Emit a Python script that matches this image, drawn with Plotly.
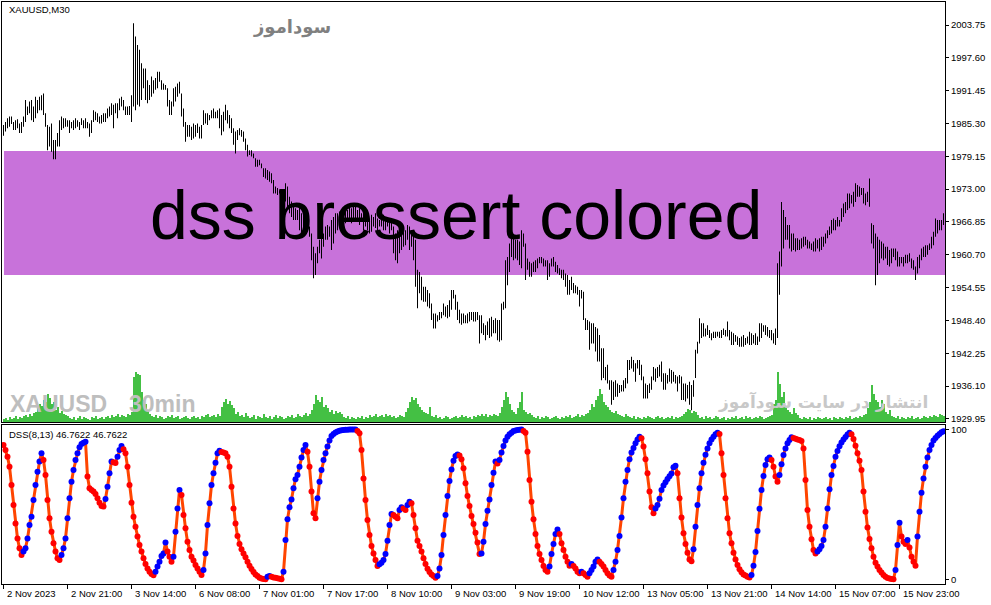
import plotly.graph_objects as go

# ---------------- data ----------------
x_labels = ["2 Nov 2023", "2 Nov 21:00", "3 Nov 14:00", "6 Nov 08:00", "7 Nov 01:00",
            "7 Nov 17:00", "8 Nov 10:00", "9 Nov 03:00", "9 Nov 19:00", "10 Nov 12:00",
            "13 Nov 05:00", "13 Nov 21:00", "14 Nov 14:00", "15 Nov 07:00", "15 Nov 23:00"]
label_bar = [0, 32, 64, 96, 128, 160, 192, 224, 256, 288, 320, 352, 384, 416, 448]

price_ticks = [2003.75, 1997.60, 1991.45, 1985.30, 1979.15, 1973.00, 1966.85,
               1960.70, 1954.55, 1948.40, 1942.25, 1936.10, 1929.95]

high = [
 1985.0,1985.6,1986.3,1986.6,1986.6,1985.6,1985.9,1986.1,1985.3,1985.6,
 1986.6,1989.7,1988.5,1989.4,1989.7,1988.5,1990.3,1989.7,1990.3,1990.6,
 1990.9,1987.2,1985.0,1984.7,1985.3,1982.2,1982.2,1983.5,1985.9,1986.6,
 1986.3,1986.3,1985.9,1985.9,1985.6,1985.9,1986.3,1985.9,1985.6,1986.3,
 1985.9,1986.3,1985.6,1985.3,1985.9,1987.8,1987.5,1987.2,1986.6,1986.9,
 1987.2,1987.2,1988.1,1988.5,1989.1,1988.8,1989.1,1989.1,1990.0,1990.3,
 1989.7,1988.5,1988.5,1988.6,1990.6,2004.1,2001.6,2000.0,1999.1,1996.6,
 1995.6,1995.6,1993.4,1992.5,1994.1,1993.4,1993.8,1995.0,1995.0,1993.4,
 1992.8,1992.5,1991.9,1989.7,1989.4,1991.9,1992.2,1992.8,1993.1,1990.9,
 1988.1,1985.6,1985.0,1985.0,1984.7,1985.3,1985.0,1985.3,1984.7,1985.0,
 1987.8,1987.2,1987.2,1986.9,1987.8,1988.1,1987.5,1987.8,1988.1,1986.9,
 1987.5,1988.8,1987.8,1986.9,1986.3,1984.4,1983.8,1984.1,1984.4,1984.1,
 1983.8,1982.5,1981.3,1980.3,1980.3,1979.7,1978.8,1978.5,1978.5,1977.8,
 1976.9,1976.9,1976.6,1976.3,1976.0,1974.7,1973.5,1973.2,1972.8,1972.8,
 1972.5,1974.1,1973.5,1971.6,1970.7,1970.0,1969.4,1969.1,1969.7,1968.5,
 1969.1,1967.5,1967.2,1966.0,1964.7,1962.2,1961.0,1962.2,1963.5,1965.3,
 1964.7,1966.0,1966.3,1966.0,1967.2,1967.8,1968.5,1968.5,1968.8,1969.1,
 1968.5,1969.4,1969.1,1969.7,1969.4,1970.3,1969.7,1969.1,1969.4,1968.5,
 1968.8,1968.5,1967.8,1967.5,1968.2,1967.8,1968.5,1967.5,1967.2,1968.5,
 1968.2,1967.5,1967.8,1967.2,1966.9,1966.0,1964.7,1965.3,1964.7,1965.3,
 1966.0,1965.3,1966.3,1966.0,1965.3,1964.7,1963.5,1957.9,1957.5,1956.6,
 1954.7,1954.7,1954.1,1953.5,1951.6,1949.7,1949.7,1949.4,1950.0,1950.0,
 1951.6,1951.0,1951.3,1952.2,1954.1,1954.1,1953.2,1951.9,1950.4,1949.7,
 1949.7,1949.4,1949.7,1950.0,1950.0,1950.0,1950.0,1950.0,1949.4,1949.4,
 1947.9,1947.5,1948.2,1948.8,1949.1,1948.5,1948.8,1948.5,1948.5,1951.6,
 1951.9,1959.7,1960.3,1962.8,1964.7,1963.8,1963.5,1963.5,1963.2,1965.3,
 1964.7,1962.8,1960.0,1959.4,1959.1,1959.4,1959.7,1960.0,1960.3,1960.3,
 1960.0,1959.7,1959.7,1959.1,1960.0,1960.3,1959.4,1958.8,1958.2,1957.9,
 1957.9,1957.2,1956.9,1956.0,1956.6,1955.4,1955.0,1954.7,1954.1,1954.1,
 1953.8,1948.8,1948.5,1948.2,1947.9,1947.9,1947.2,1946.9,1945.7,1943.2,
 1943.2,1939.7,1940.1,1937.2,1937.2,1936.9,1937.2,1936.6,1936.3,1936.3,
 1937.2,1937.6,1941.0,1941.0,1941.6,1941.0,1940.4,1941.0,1941.0,1940.1,
 1937.9,1936.6,1936.3,1936.6,1937.9,1939.7,1939.4,1939.7,1940.1,1940.7,
 1938.5,1938.5,1938.2,1939.4,1939.1,1938.8,1938.2,1937.9,1938.2,1937.9,
 1936.6,1936.6,1936.3,1936.9,1936.3,1937.2,1942.9,1944.4,1948.8,1947.9,
 1947.9,1946.9,1947.5,1946.6,1946.0,1946.3,1946.3,1946.3,1946.3,1946.6,
 1946.9,1946.6,1948.2,1946.6,1946.3,1946.0,1945.7,1945.4,1945.1,1945.4,
 1945.7,1945.1,1945.4,1946.3,1946.0,1945.7,1946.0,1945.4,1947.9,1947.9,
 1947.5,1947.5,1947.2,1946.6,1946.6,1946.0,1946.9,1959.1,1961.3,1970.6,
 1969.1,1967.8,1966.3,1966.3,1964.7,1964.7,1963.8,1963.8,1963.5,1963.8,
 1964.1,1964.1,1963.5,1963.2,1962.8,1963.2,1963.8,1963.5,1963.8,1964.1,
 1964.1,1964.7,1965.3,1966.0,1967.2,1967.5,1967.2,1967.8,1967.2,1969.4,
 1970.3,1970.6,1972.2,1972.2,1971.9,1972.5,1974.1,1973.8,1973.5,1973.2,
 1973.2,1972.2,1972.5,1975.0,1966.6,1966.3,1964.7,1964.1,1963.5,1963.2,
 1962.8,1962.2,1962.2,1961.6,1961.9,1961.9,1961.9,1961.3,1960.3,1960.3,
 1960.3,1960.7,1960.7,1961.0,1960.0,1959.7,1958.5,1960.3,1960.7,1961.9,
 1962.2,1962.5,1962.5,1962.8,1964.1,1965.0,1967.5,1967.2,1967.2,1967.2,1968.5]

low = [
 1983.0,1983.8,1984.4,1984.7,1985.2,1984.1,1984.1,1984.4,1983.5,1983.5,
 1984.7,1985.6,1986.9,1987.2,1985.9,1985.6,1986.3,1987.2,1987.8,1987.8,
 1986.9,1984.7,1980.3,1981.0,1980.0,1978.6,1978.6,1981.0,1981.0,1984.1,
 1984.4,1984.7,1984.7,1983.5,1984.4,1984.1,1984.4,1984.7,1984.1,1985.0,
 1984.4,1984.4,1984.4,1982.8,1983.5,1985.6,1985.9,1985.6,1985.3,1985.3,
 1985.6,1985.6,1986.3,1986.6,1986.9,1984.4,1987.2,1986.3,1987.8,1988.5,
 1987.8,1986.9,1986.9,1986.9,1985.6,1988.5,1987.8,1988.8,1988.5,1989.7,
 1991.9,1989.7,1989.1,1989.7,1990.3,1990.9,1991.6,1991.9,1993.1,1991.6,
 1991.6,1991.6,1988.5,1986.9,1986.9,1988.5,1989.4,1990.3,1990.9,1986.6,
 1984.7,1981.9,1982.8,1982.8,1982.2,1982.5,1982.8,1983.5,1982.5,1982.5,
 1985.0,1985.3,1985.0,1985.9,1986.3,1986.3,1986.3,1986.3,1984.4,1983.1,
 1983.8,1985.9,1985.3,1984.4,1983.5,1981.3,1979.7,1982.2,1983.1,1982.8,
 1981.9,1980.3,1979.1,1979.4,1979.1,1978.8,1977.2,1977.2,1977.5,1976.9,
 1975.3,1975.0,1974.7,1974.4,1974.1,1972.2,1972.2,1971.9,1972.2,1971.9,
 1971.6,1970.7,1969.7,1968.5,1967.8,1967.2,1967.2,1967.2,1965.3,1964.7,
 1964.7,1964.7,1965.3,1964.1,1959.7,1956.3,1956.9,1959.1,1961.0,1960.0,
 1962.2,1963.5,1963.5,1964.1,1961.6,1962.8,1964.7,1965.3,1966.0,1965.3,
 1966.0,1966.6,1966.9,1967.2,1966.6,1967.5,1966.9,1967.2,1966.3,1966.9,
 1965.3,1966.0,1965.3,1964.7,1965.0,1966.0,1965.7,1965.3,1966.0,1966.0,
 1965.3,1965.3,1966.0,1964.7,1965.3,1961.0,1959.7,1959.1,1961.0,1961.6,
 1962.2,1962.5,1963.5,1961.6,1962.2,1959.7,1954.7,1950.7,1953.5,1952.2,
 1951.9,1951.9,1951.0,1950.7,1948.5,1946.9,1946.9,1948.2,1948.5,1948.8,
 1949.4,1949.1,1948.8,1949.1,1950.4,1952.5,1950.4,1948.5,1947.9,1947.6,
 1947.9,1947.9,1947.9,1948.2,1948.5,1948.2,1948.2,1948.5,1944.1,1946.0,
 1945.7,1944.7,1945.7,1945.1,1945.4,1946.0,1946.0,1944.7,1944.4,1944.7,
 1950.4,1950.7,1955.0,1957.5,1960.3,1959.7,1960.0,1959.7,1958.8,1958.2,
 1962.2,1956.0,1957.9,1956.6,1956.6,1957.5,1957.5,1958.2,1959.1,1959.1,
 1958.5,1958.5,1956.0,1956.6,1958.5,1958.5,1957.5,1957.2,1956.9,1956.3,
 1956.0,1954.7,1953.2,1953.2,1954.1,1953.5,1953.5,1953.2,1951.0,1952.5,
 1948.5,1946.6,1946.6,1942.9,1944.1,1944.1,1942.6,1940.7,1940.7,1937.2,
 1937.6,1937.2,1936.6,1935.4,1932.6,1933.5,1934.1,1934.1,1934.8,1935.1,
 1935.1,1935.7,1936.6,1939.1,1939.4,1938.8,1936.9,1939.4,1938.2,1937.2,
 1933.8,1933.8,1933.8,1934.8,1935.4,1937.2,1936.9,1937.6,1937.9,1936.9,
 1935.4,1935.4,1936.6,1936.9,1936.6,1936.9,1936.6,1935.1,1936.6,1933.5,
 1933.5,1933.2,1933.8,1932.6,1931.6,1934.1,1937.6,1942.2,1944.1,1945.1,
 1945.4,1945.4,1945.7,1945.1,1944.7,1945.1,1945.1,1945.4,1945.1,1945.1,
 1945.7,1945.4,1945.4,1944.7,1943.8,1943.8,1944.4,1943.8,1943.5,1943.5,
 1943.5,1943.8,1944.1,1943.8,1943.8,1944.1,1943.8,1943.8,1944.4,1945.1,
 1946.3,1945.7,1945.4,1945.1,1944.7,1944.1,1943.8,1945.1,1953.2,1958.5,
 1961.9,1963.5,1963.5,1961.9,1961.3,1961.6,1961.3,1961.6,1961.6,1961.9,
 1962.2,1962.5,1961.9,1961.9,1961.6,1961.3,1961.3,1961.9,1961.3,1961.6,
 1962.2,1962.8,1963.8,1964.4,1964.7,1965.3,1965.3,1966.0,1966.0,1966.9,
 1967.8,1968.5,1969.1,1969.4,1970.3,1969.7,1970.6,1971.6,1971.6,1971.9,
 1970.3,1970.0,1970.6,1969.7,1962.8,1961.9,1955.0,1956.9,1959.1,1960.0,
 1959.7,1960.0,1958.8,1958.5,1959.1,1960.3,1959.7,1958.5,1958.5,1959.1,
 1958.5,1959.1,1959.1,1959.4,1958.2,1957.9,1956.0,1957.2,1958.2,1959.7,
 1960.3,1960.3,1960.7,1961.6,1961.9,1962.5,1964.1,1964.7,1965.3,1965.3,1966.3]

# tick volume (hundreds of ticks)
volume = [
 3,4,2,5,3,4,6,3,5,4,6,
 7,5,8,6,9,10,
 14,18,16,22,20,28,24,18,20,
 12,15,9,11,8,7,6,
 4,3,5,2,4,6,3,5,4,3,2,5,4,6,3,4,5,3,
 5,6,4,7,5,6,8,5,7,6,5,8,7,10,
 45,50,48,47,
 30,22,18,12,
 8,6,5,7,4,6,5,3,4,6,5,7,4,5,6,3,4,5,6,4,3,5,6,4,5,3,
 6,5,7,8,5,6,7,5,8,6,
 15,20,23,18,21,17,14,
 8,10,6,7,5,9,6,4,5,7,3,6,5,4,8,5,4,6,3,5,7,4,6,5,3,4,6,5,7,4,5,8,6,5,7,9,6,8,
 12,18,27,22,20,25,15,17,14,
 10,12,8,11,9,10,8,
 5,4,6,3,5,4,3,5,4,6,3,5,4,7,5,6,8,5,6,7,5,8,6,7,5,6,4,5,7,6,5,
 10,14,20,25,22,24,18,15,12,10,9,8,15,
 6,5,7,4,5,3,4,6,5,3,4,5,6,4,5,7,5,6,4,5,3,6,5,7,6,8,
 6,8,5,7,6,8,7,6,9,
 15,22,30,25,18,12,10,8,14,20,30,
 12,10,8,9,7,
 5,4,6,3,5,4,6,5,3,4,5,6,4,3,5,4,6,5,7,4,5,6,8,5,7,6,8,9,
 12,18,15,22,26,33,28,20,17,15,
 12,10,9,11,8,7,6,5,8,6,
 5,4,6,3,5,4,3,5,4,6,5,4,3,5,6,4,5,3,4,5,4,6,3,5,4,5,6,
 8,10,13,12,9,11,10,7,
 4,5,3,6,4,5,3,4,6,5,3,4,5,2,4,3,5,4,6,3,4,5,3,6,4,5,3,4,5,4,6,5,3,4,5,6,7,
 18,22,50,38,25,30,15,
 12,10,8,14,9,7,
 4,3,5,4,3,5,2,4,3,5,4,3,4,5,3,4,2,5,4,3,5,4,3,5,4,6,3,4,5,4,6,5,7,8,
 14,20,37,28,22,
 20,15,22,18,10,8,12,
 6,5,4,6,3,5,4,3,5,4,6,3,4,5,3,4,6,5,4,6,5,7,6,5,8,7,6]

dss = [
 89.7,86.3,81.9,75.2,63.0,49.7,37.4,27.4,20.8,16.3,
 18.6,20.8,27.4,36.3,41.9,53.0,63.0,71.9,78.6,84.1,
 79.7,69.7,53.0,40.8,31.9,24.1,18.6,14.1,13.0,16.3,
 20.8,27.4,40.8,54.1,65.2,73.0,79.7,84.1,88.1,90.3,
 91.2,91.9,68.6,60.8,59.7,58.6,57.0,54.1,51.2,49.0,
 48.6,53.7,61.9,70.8,78.6,78.1,77.7,81.9,86.3,89.0,
 86.8,84.1,75.2,63.0,51.2,41.9,35.2,28.6,23.0,18.6,
 14.1,10.3,7.4,5.2,3.7,2.8,5.2,8.6,11.9,15.7,
 17.4,24.6,18.6,15.2,11.9,15.2,31.9,47.4,59.7,56.3,
 43.0,34.1,25.2,19.7,15.2,12.6,9.7,7.4,5.2,3.0,
 6.3,17.4,36.3,50.8,63.0,70.8,77.9,84.1,85.9,85.0,
 84.6,84.1,81.9,75.2,61.9,47.4,37.4,29.0,23.7,20.1,
 17.4,14.8,11.9,9.2,7.0,5.0,3.4,2.3,1.2,0.7,
 0.4,0.2,1.9,2.3,1.8,1.4,1.1,0.8,0.5,0.2,
 5.2,26.3,40.1,48.1,53.4,60.8,66.8,69.7,75.2,81.4,
 86.3,89.7,85.2,75.2,58.6,44.1,40.8,54.1,65.2,73.0,
 79.7,84.1,88.6,92.6,95.7,97.0,98.0,98.7,99.2,99.5,
 99.7,99.8,99.9,99.95,99.97,99.98,99.99,99.0,97.5,86.3,
 67.4,53.0,39.7,29.7,22.3,17.4,13.0,9.0,10.1,11.2,
 13.0,17.0,25.9,36.3,43.7,43.0,41.9,40.8,46.3,48.1,
 47.4,46.3,49.7,51.9,50.8,43.0,34.1,25.9,22.3,18.6,
 14.1,10.3,7.2,5.0,3.4,2.3,1.2,2.3,7.4,16.3,
 29.7,43.0,55.7,65.7,73.4,79.2,82.3,83.4,82.6,80.1,
 74.1,64.1,55.7,49.0,42.3,37.0,31.2,24.6,17.0,17.4,
 25.2,37.0,45.9,53.4,63.0,71.2,78.6,77.4,79.7,84.6,
 89.0,92.6,95.2,96.8,97.9,99.0,99.4,99.7,99.9,100.0,
 99.0,97.9,85.2,66.3,51.9,40.1,30.3,22.3,17.0,13.0,
 9.0,6.3,5.2,8.6,17.0,23.7,30.3,33.4,30.3,24.1,
 19.7,15.2,11.9,9.2,10.3,9.0,7.4,5.2,4.1,5.2,
 4.1,3.0,1.9,4.1,6.3,8.6,11.9,13.4,11.9,10.3,
 8.6,6.3,4.1,2.6,1.9,6.3,11.9,19.7,29.0,41.4,
 54.1,65.2,73.0,80.1,84.6,87.7,90.8,93.4,95.2,94.1,
 88.6,80.1,70.8,58.6,48.1,44.1,47.4,49.7,53.9,59.7,
 62.6,64.8,67.0,68.8,70.6,74.8,75.9,70.8,54.1,41.4,
 30.8,23.7,17.9,13.4,12.1,20.1,35.2,49.7,60.8,70.8,
 77.9,83.2,87.4,90.8,93.4,95.2,96.8,97.9,97.0,84.1,
 69.7,54.1,40.8,30.8,24.1,17.9,13.4,9.7,6.8,4.8,
 3.4,2.6,1.9,1.4,3.0,9.2,18.3,32.3,47.2,59.7,
 69.0,76.3,80.1,81.4,79.7,75.2,68.6,65.2,69.7,76.8,
 83.0,87.4,90.8,93.0,94.8,94.3,93.9,93.4,93.0,92.3,
 87.4,66.3,46.3,35.2,26.8,19.7,17.4,18.6,20.1,22.3,
 26.3,35.2,47.4,60.1,69.7,75.7,81.9,85.7,88.8,91.4,
 93.4,95.0,96.6,97.9,96.8,93.7,89.2,84.1,79.2,73.0,
 58.6,45.2,34.6,27.0,20.8,15.2,11.2,8.6,6.3,4.6,
 3.0,1.9,1.0,0.6,0.3,0.1,6.3,23.0,37.9,28.6,
 25.2,23.7,26.3,21.4,15.2,11.9,9.2,28.6,45.2,57.9,
 67.4,75.2,81.4,86.3,89.7,92.6,94.3,95.9,97.0,98.1,98.8]

band_low, band_high = 1956.92, 1980.15

n = len(high)
if not (len(low) == n == len(volume) == len(dss)):
    raise SystemExit(f"length mismatch {len(high)} {len(low)} {len(volume)} {len(dss)}")

bars = list(range(n))
span = [h - l for h, l in zip(high, low)]
dot_colors = ["#FF0000"] + ["#0000FF" if dss[i] > dss[i - 1] else "#FF0000" for i in range(1, n)]

FONT = "Liberation Sans, Arial, sans-serif"
# 943 px plot width over 471.5 bar units -> exactly 2 px per bar, bar edges on whole pixels
xr = [-0.75, n - 0.25]

fig = go.Figure()
fig.add_trace(go.Bar(x=bars, y=volume, xaxis="x2", yaxis="y3", width=0.58, offset=-0.25,
                     marker=dict(color="#44C044", opacity=0.999, line=dict(width=0)),
                     hoverinfo="skip"))
fig.add_trace(go.Bar(x=bars, y=span, base=low, xaxis="x2", yaxis="y", width=0.5,
                     marker=dict(color="black", line=dict(width=0))))
fig.add_trace(go.Scatter(x=bars, y=dss, xaxis="x", yaxis="y2", mode="lines",
                         line=dict(color="#FF4500", width=3)))
fig.add_trace(go.Scatter(x=bars, y=dss, xaxis="x", yaxis="y2", mode="markers",
                         marker=dict(color=dot_colors, size=6, line=dict(width=0))))

axis_common = dict(showgrid=False, zeroline=False, showline=True, mirror=True,
                   linecolor="black", linewidth=1)

fig.update_layout(
    width=991, height=605,
    margin=dict(l=2, r=46, t=2, b=21),
    paper_bgcolor="white", plot_bgcolor="white",
    showlegend=False, barmode="overlay",
    font=dict(family=FONT, size=10, color="black"),
    xaxis=dict(domain=[0, 1], anchor="y2", range=xr, tickvals=label_bar,
               showticklabels=False, ticks="outside", ticklen=4, tickcolor="black", **axis_common),
    xaxis2=dict(domain=[0, 1], anchor="y", range=xr, showticklabels=False, ticks="", **axis_common),
    yaxis=dict(domain=[0.27835, 1], anchor="x2", side="right", range=[1929.38, 2008.06],
               tickvals=price_ticks, ticktext=[f"{v:.2f}" for v in price_ticks],
               ticks="outside", ticklen=3, tickcolor="black",
               tickfont=dict(family=FONT, size=9.5, color="black"), **axis_common),
    yaxis2=dict(domain=[0, 0.2732], anchor="x", side="right", range=[-3, 103],
                tickvals=[0, 100], ticktext=["0", "100"],
                ticks="outside", ticklen=3, tickcolor="black",
                tickfont=dict(family=FONT, size=9.5, color="black"), **axis_common),
    yaxis3=dict(overlaying="y", anchor="x2", range=[0, 420], visible=False),
)

fig.add_shape(type="rect", xref="paper", yref="y", x0=0.0021, x1=1, y0=band_low, y1=band_high,
              fillcolor="#C872DA", line=dict(width=0), layer="below")

ann = []
for b, t in zip(label_bar, x_labels):
    ann.append(dict(x=b, y=-0.0155, xref="x", yref="paper", text=t, showarrow=False,
                    xanchor="left", yanchor="middle", xshift=1,
                    font=dict(family=FONT, size=9.5, color="black")))
ann += [
    dict(x=0.0053, y=0.9863, xref="paper", yref="paper", text="XAUUSD,M30", showarrow=False,
         xanchor="left", yanchor="middle", font=dict(family=FONT, size=9.5, color="black")),
    dict(x=0.0053, y=0.2577, xref="paper", yref="paper", text="DSS(8,13) 46.7622 46.7622",
         showarrow=False, xanchor="left", yanchor="middle",
         font=dict(family=FONT, size=9.5, color="black")),
    dict(x=0.4814, y=0.634, xref="paper", yref="paper", text="dss bressert colored",
         showarrow=False, xanchor="center", yanchor="middle",
         font=dict(family=FONT, size=68, color="black")),
    dict(x=0.3075, y=0.957, xref="paper", yref="paper", text="<b>سوداموز</b>",
         showarrow=False, xanchor="center", yanchor="middle",
         font=dict(family="DejaVu Sans", size=18, color="#808080")),
    dict(x=0.0064, y=0.3093, xref="paper", yref="paper", text="<b>XAUUSD</b>",
         showarrow=False, xanchor="left", yanchor="middle",
         font=dict(family=FONT, size=23, color="#BEBEBE")),
    dict(x=0.1326, y=0.3093, xref="paper", yref="paper", text="<b>30min</b>",
         showarrow=False, xanchor="left", yanchor="middle",
         font=dict(family=FONT, size=23, color="#BEBEBE")),
    dict(x=0.9841, y=0.3127, xref="paper", yref="paper", text="<b>انتشار در سایت سودآموز</b>",
         showarrow=False, xanchor="right", yanchor="middle",
         font=dict(family="DejaVu Sans", size=17, color="#C8C8C8")),
]
fig.update_layout(annotations=ann)

fig.write_html("out.html", config={"displayModeBar": False},
               post_script="document.body.style.margin='0';")
